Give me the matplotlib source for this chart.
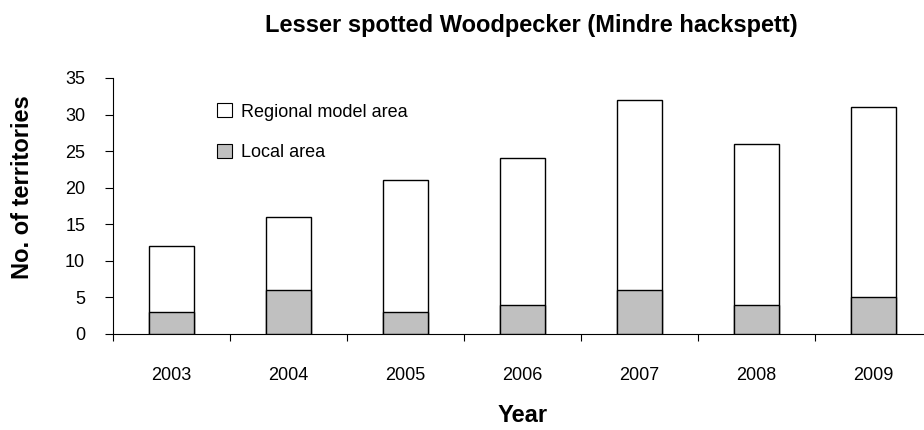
import numpy as np
import matplotlib.pyplot as plt
from matplotlib.patches import Patch

plt.rcParams['font.family'] = ['Liberation Sans', 'DejaVu Sans']

years = ['2003', '2004', '2005', '2006', '2007', '2008', '2009']
regional = [12, 16, 21, 24, 32, 26, 31]
local = [3, 6, 3, 4, 6, 4, 5]

fig = plt.figure(figsize=(9.24, 4.3), dpi=100)
ax = fig.add_axes([113/924, 1 - 334/430, (932 - 113)/924, (334 - 78)/430])

x = np.arange(len(years))
width = 0.39
ax.bar(x, regional, width, color='white', edgecolor='black', linewidth=1, zorder=2)
ax.bar(x, local, width, color='#c0c0c0', edgecolor='black', linewidth=1, zorder=3)

ax.set_xlim(-0.5, len(years) - 0.5)
ax.set_ylim(0, 35)
ax.set_yticks(range(0, 36, 5))
ax.set_xticks(np.arange(-0.5, len(years), 1.0))
ax.set_xticklabels([])
ax.set_xticks(x, minor=True)
ax.set_xticklabels(years, minor=True)
ax.tick_params(axis='x', which='minor', length=0, pad=23.5, labelsize=13)
ax.tick_params(axis='x', which='major', direction='out', length=5, width=0.8)
ax.tick_params(axis='y', direction='out', length=6, width=0.8, labelsize=13, pad=14)

for s in ['top', 'right']:
    ax.spines[s].set_visible(False)
for s in ['left', 'bottom']:
    ax.spines[s].set_linewidth(0.8)

ax.set_ylabel('No. of territories', fontsize=17, fontweight='bold')
ax.yaxis.set_label_coords((34 - 113)/819, (334 - 187)/256)
ax.set_xlabel('Year', fontsize=17, fontweight='bold', labelpad=15)
fig.text(531/924, 1 - 32/430, 'Lesser spotted Woodpecker (Mindre hackspett)',
         ha='center', va='baseline', fontsize=17, fontweight='bold')

handles = [Patch(facecolor='white', edgecolor='black', linewidth=0.8, label='Regional model area'),
           Patch(facecolor='#c0c0c0', edgecolor='black', linewidth=0.8, label='Local area')]
ax.legend(handles=handles, loc='upper left', bbox_to_anchor=(203/924, 1 - 89/430),
          bbox_transform=fig.transFigure, frameon=False, fontsize=13,
          handlelength=0.78, handleheight=0.78, handletextpad=0.5, labelspacing=1.3,
          borderpad=0.3)

fig.savefig('out.png', dpi=100)
